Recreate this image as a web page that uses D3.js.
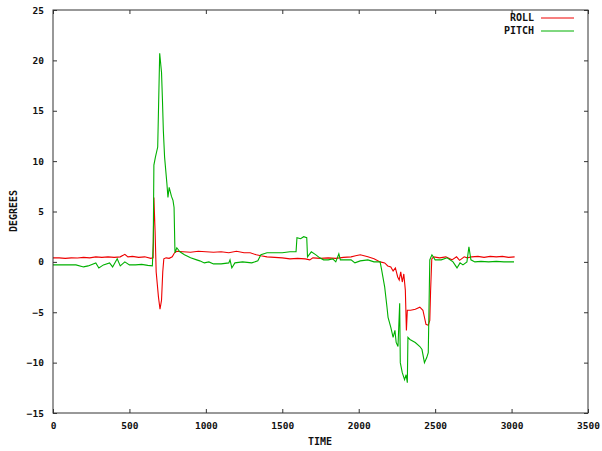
<!DOCTYPE html>
<html>
<head>
<meta charset="utf-8">
<script src="https://cdn.jsdelivr.net/npm/d3@7"></script>
<style>
  html, body { margin: 0; padding: 0; background: #fff; }
  svg { display: block; }
  text { font-family: "DejaVu Sans Mono", "Liberation Mono", monospace; font-weight: bold; fill: #111; }
</style>
</head>
<body>
<svg id="chart" width="602" height="451"></svg>
<script>
// ---- data ----
const xTicks = [0, 500, 1000, 1500, 2000, 2500, 3000, 3500];
const yTicks = [-15, -10, -5, 0, 5, 10, 15, 20, 25];
const seriesNames = ["ROLL", "PITCH"];
const seriesColors = ["#ee0000", "#00b000"];

const rollT = [0,40,80,120,160,200,240,280,320,360,400,440,470,490,520,560,600,640,655,660,668,675,690,700,710,718,725,740,760,780,795,810,850,900,950,1000,1050,1100,1150,1200,1250,1290,1330,1360,1400,1450,1500,1550,1600,1650,1680,1700,1750,1800,1850,1900,1950,1980,2010,2060,2100,2140,2170,2190,2210,2225,2240,2255,2265,2275,2285,2295,2305,2312,2318,2340,2370,2400,2420,2440,2455,2465,2470,2478,2490,2530,2570,2610,2640,2660,2690,2710,2740,2780,2820,2860,2900,2940,2980,3020];
const rollV = [0.4,0.4,0.35,0.4,0.38,0.45,0.4,0.5,0.45,0.5,0.45,0.5,0.75,0.5,0.55,0.45,0.5,0.35,0.4,6.4,3.0,-1.0,-3.5,-4.7,-3.8,-1.0,0.3,0.4,0.35,0.5,0.9,1.05,1.0,0.95,1.05,1.0,0.95,1.0,0.9,1.05,0.9,0.9,0.7,0.6,0.5,0.45,0.4,0.3,0.35,0.3,0.2,0.4,0.35,0.4,0.35,0.45,0.5,0.6,0.7,0.5,0.3,0.0,-0.1,-0.4,-0.5,-0.9,-0.6,-1.5,-1.8,-1.0,-2.0,-1.2,-2.8,-6.8,-4.8,-4.8,-4.7,-4.5,-4.8,-6.2,-6.3,-5.8,-3.0,0.3,0.5,0.4,0.5,0.2,0.5,0.15,0.5,0.4,0.5,0.55,0.45,0.55,0.5,0.55,0.45,0.5];

const pitchT = [0,50,100,150,200,230,280,300,330,370,390,420,440,470,500,540,580,620,650,656,660,670,685,698,710,716,722,730,745,752,760,775,785,792,798,810,830,860,900,940,960,990,1020,1050,1100,1150,1158,1170,1190,1240,1300,1340,1360,1400,1450,1500,1550,1590,1596,1620,1640,1660,1665,1690,1720,1745,1770,1800,1830,1850,1870,1880,1920,1950,1975,2010,2060,2100,2140,2150,2170,2185,2192,2210,2225,2237,2245,2257,2268,2272,2285,2300,2310,2318,2322,2335,2370,2400,2414,2430,2445,2455,2465,2479,2500,2540,2578,2617,2643,2663,2682,2708,2721,2734,2760,2800,2850,2900,2950,3016];
const pitchV = [-0.3,-0.3,-0.3,-0.3,-0.5,-0.4,-0.1,-0.6,-0.3,-0.1,-0.5,0.3,-0.4,0.0,-0.3,-0.3,-0.25,-0.35,-0.4,2.0,9.6,10.4,11.4,20.7,18.8,16.1,13.0,10.4,7.8,6.4,7.4,6.5,6.1,5.4,0.9,1.4,1.0,0.7,0.4,0.2,0.1,-0.1,0.0,-0.2,-0.2,-0.1,0.2,-0.6,-0.1,0.0,-0.1,0.1,0.7,0.9,0.9,0.9,1.0,1.0,2.4,2.3,2.5,2.4,0.5,1.0,0.7,0.4,0.2,0.2,0.3,0.0,0.8,0.2,0.2,0.2,-0.1,0.1,0.2,0.0,0.0,-0.8,-2.5,-4.5,-5.5,-6.5,-7.5,-6.8,-8.0,-8.4,-4.1,-10.0,-11.0,-11.7,-11.2,-12.0,-7.5,-7.7,-8.0,-8.4,-8.7,-10.0,-9.5,-9.0,0.2,0.7,0.2,0.2,0.4,0.0,-0.6,-0.1,-0.3,0.0,1.5,0.2,0.0,0.05,0.0,0.05,0.0,0.0];

// ---- layout ----
const svg = d3.select("#chart");
const L = 53, R = 588, T = 10, B = 413;
const x = d3.scaleLinear().domain([0, 3500]).range([L, R]);
const y = d3.scaleLinear().domain([-15, 25]).range([B, T]);

const series = [
  { name: seriesNames[0], color: seriesColors[0], pts: rollT.map((t, i) => [t, rollV[i]]) },
  { name: seriesNames[1], color: seriesColors[1], pts: pitchT.map((t, i) => [t, pitchV[i]]) }
];
const line = d3.line().x(d => x(d[0])).y(d => y(d[1]));
series.forEach(s => {
  svg.append("path").datum(s.pts)
    .attr("d", line).attr("fill", "none")
    .attr("stroke", s.color).attr("stroke-width", 1.1);
});

// axes with inward ticks, mirrored
const tickLen = 4;
const gB = svg.append("g").attr("transform", `translate(0,${B})`)
  .call(d3.axisBottom(x).tickValues(xTicks).tickSize(-tickLen).tickPadding(9).tickFormat(d3.format("d")));
const gT = svg.append("g").attr("transform", `translate(0,${T})`)
  .call(d3.axisTop(x).tickValues(xTicks).tickSize(-tickLen).tickFormat(""));
const gL = svg.append("g").attr("transform", `translate(${L},0)`)
  .call(d3.axisLeft(y).tickValues(yTicks).tickSize(-tickLen).tickPadding(9).tickFormat(d3.format("d")));
const gR = svg.append("g").attr("transform", `translate(${R},0)`)
  .call(d3.axisRight(y).tickValues(yTicks).tickSize(-tickLen).tickFormat(""));
[gB, gT, gL, gR].forEach(g => {
  g.select(".domain").remove();
  g.selectAll(".tick line").attr("stroke", "#333");
  g.selectAll("text").attr("font-size", 9.5).attr("font-family", "DejaVu Sans Mono").attr("font-weight", "bold").attr("fill", "#111");
});

// frame
svg.append("rect").attr("x", L).attr("y", T).attr("width", R - L).attr("height", B - T)
  .attr("fill", "none").attr("stroke", "#333").attr("stroke-width", 1);

// axis titles
svg.append("text").attr("x", 320).attr("y", 442).attr("text-anchor", "middle")
  .attr("dominant-baseline", "middle").attr("font-size", 10).text("TIME");
svg.append("text").attr("transform", "translate(14,211) rotate(-90)").attr("text-anchor", "middle")
  .attr("dominant-baseline", "middle").attr("font-size", 10).text("DEGREES");

// legend
series.forEach((s, i) => {
  const ly = 18 + i * 13;
  svg.append("text").attr("x", 534).attr("y", ly).attr("text-anchor", "end")
    .attr("dominant-baseline", "middle").attr("font-size", 10).text(s.name);
  svg.append("line").attr("x1", 541).attr("x2", 574).attr("y1", ly).attr("y2", ly)
    .attr("stroke", s.color).attr("stroke-width", 1);
});
</script>
</body>
</html>
